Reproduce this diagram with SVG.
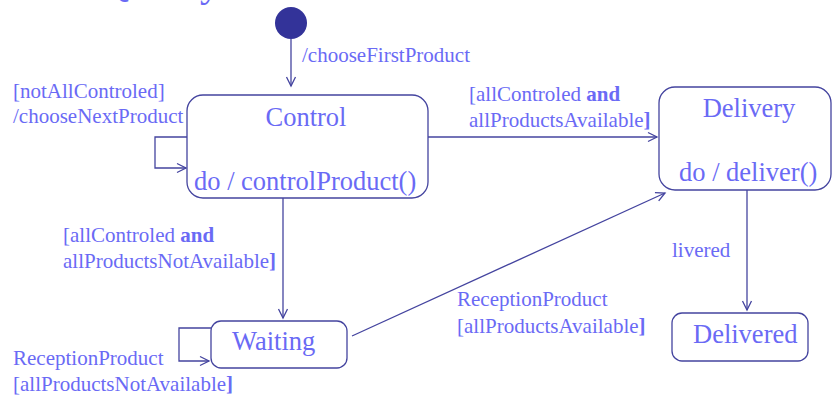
<svg xmlns="http://www.w3.org/2000/svg" width="832" height="396" viewBox="0 0 832 396">
  <style>
    .lbl { font-family: "Liberation Serif", "Times New Roman", serif; font-size: 21px; fill: #6a6af5; }
    .st { font-family: "Liberation Serif", "Times New Roman", serif; font-size: 26.5px; fill: #6a6af5; }
    .box { fill: #ffffff; stroke: #44449f; stroke-width: 1.3; }
    .edge { fill: none; stroke: #44449f; stroke-width: 1.3; }
    .b { font-weight: bold; }
  </style>
  <defs>
    <marker id="arr" markerUnits="userSpaceOnUse" markerWidth="12" markerHeight="12" refX="10" refY="5" orient="auto" viewBox="0 0 12 10">
      <path d="M1,0.5 L10,5 L1,9.5" fill="none" stroke="#44449f" stroke-width="1.3"/>
    </marker>
  </defs>

  <text class="st" x="100" y="-4" style="font-size:40px">Quality</text>

  <g id="connectors">
    <path class="edge" d="M291,39 L291,86" marker-end="url(#arr)"/>
    <path class="edge" d="M187,137 L155,137 L155,168 L186,168" marker-end="url(#arr)"/>
    <path class="edge" d="M428,137 L657,137" marker-end="url(#arr)"/>
    <path class="edge" d="M283,198 L283,318" marker-end="url(#arr)"/>
    <path class="edge" d="M211,328 L179,328 L179,361 L209,361" marker-end="url(#arr)"/>
    <path class="edge" d="M352,336 L665,193" marker-end="url(#arr)"/>
    <path class="edge" d="M747,190 L747,310" marker-end="url(#arr)"/>
  </g>

  <g id="labels">
    <text class="lbl" x="302" y="62">/chooseFirstProduct</text>
    <text class="lbl" x="13" y="98">[notAllControled]</text>
    <text class="lbl" x="13" y="123">/chooseNextProduct</text>
    <text class="lbl" x="469" y="101">[allControled <tspan class="b">and</tspan></text>
    <text class="lbl" x="469" y="127">allProductsAvailable<tspan class="b">]</tspan></text>
    <text class="lbl" x="63" y="242">[allControled <tspan class="b">and</tspan></text>
    <text class="lbl" x="63" y="268">allProductsNotAvailable<tspan class="b">]</tspan></text>
    <text class="lbl" x="672" y="257">livered</text>
    <text class="lbl" x="457" y="306">ReceptionProduct</text>
    <text class="lbl" x="457" y="333">[allProductsAvailable<tspan class="b">]</tspan></text>
    <text class="lbl" x="13" y="365">ReceptionProduct</text>
    <text class="lbl" x="13" y="391">[allProductsNotAvailable<tspan class="b">]</tspan></text>
  </g>

  <g id="initial">
    <circle cx="291" cy="23" r="16" fill="#333399"/>
  </g>

  <g id="control">
    <rect class="box" x="187" y="95" width="241" height="103" rx="16"/>
    <text class="st" x="306" y="126" text-anchor="middle">Control</text>
    <text class="st" x="194" y="190">do / controlProduct()</text>
  </g>

  <g id="delivery">
    <rect class="box" x="659" y="87" width="172" height="103" rx="16"/>
    <text class="st" x="749" y="117" text-anchor="middle">Delivery</text>
    <text class="st" x="679" y="181">do / deliver()</text>
  </g>

  <g id="waiting">
    <rect class="box" x="211" y="321" width="136" height="47" rx="10"/>
    <text class="st" x="232" y="350">Waiting</text>
  </g>

  <g id="delivered">
    <rect class="box" x="672" y="313" width="136" height="48" rx="10"/>
    <text class="st" x="693" y="343">Delivered</text>
  </g>
</svg>
